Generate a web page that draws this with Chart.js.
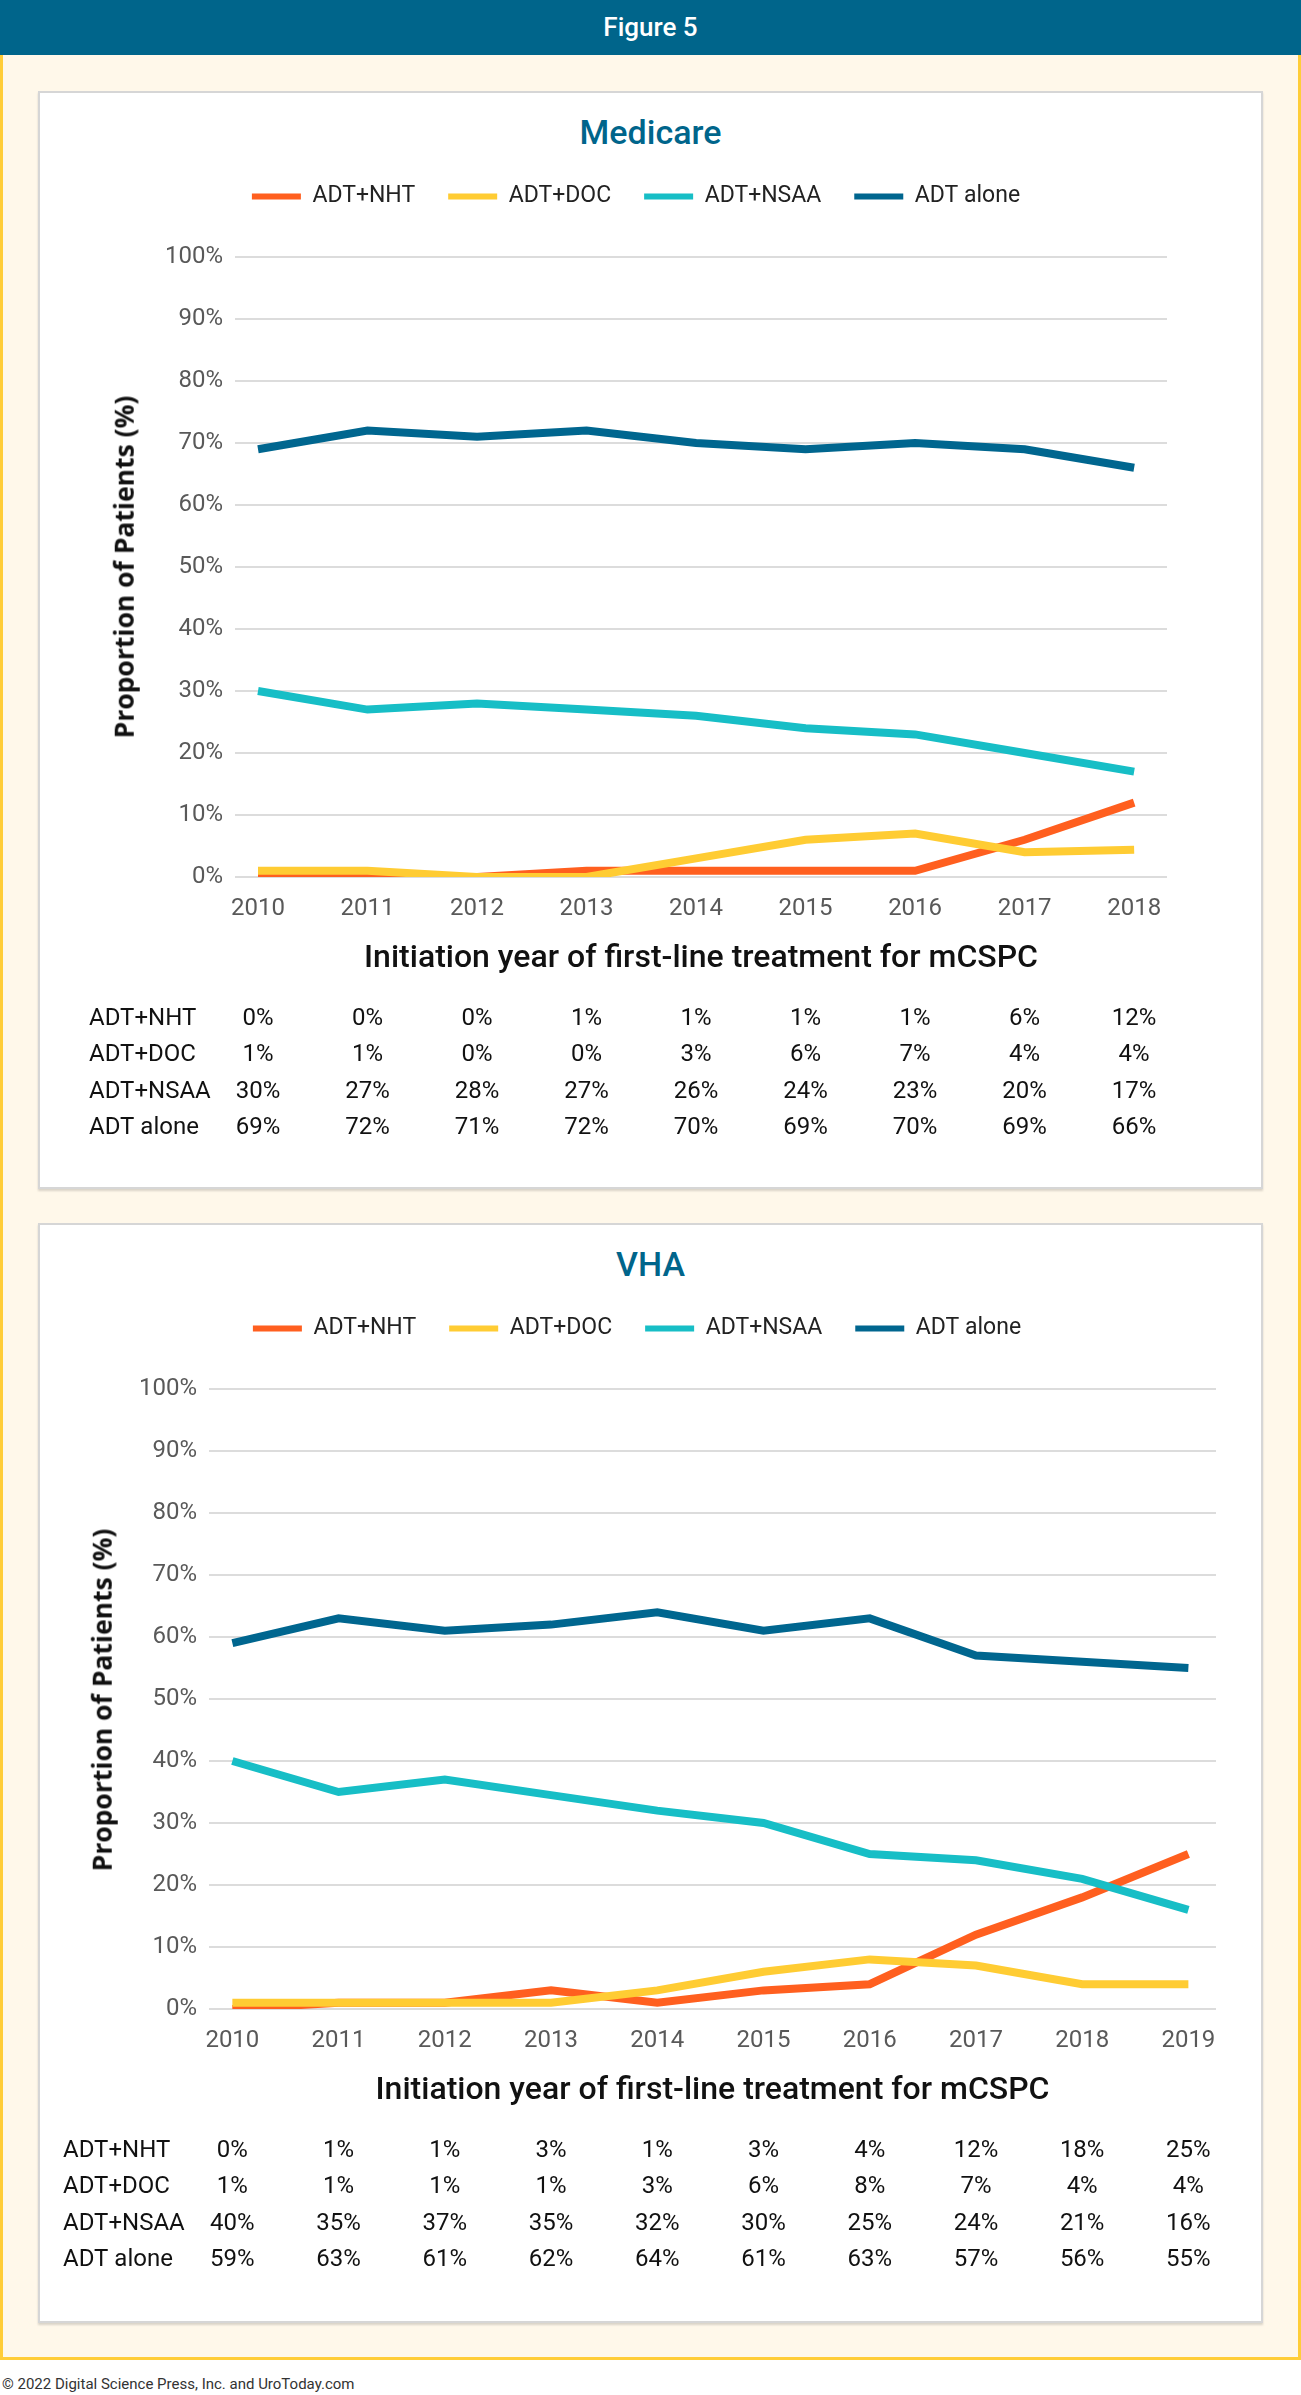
<!DOCTYPE html>
<html>
<head>
<meta charset="utf-8">
<title>Figure 5</title>
<script src="https://cdn.jsdelivr.net/npm/chart.js@4.4.1/dist/chart.umd.min.js"></script>
<style>
  body { margin: 0; width: 1301px; height: 2395px; background: #fff; font-family: Roboto, sans-serif; position: relative; overflow: hidden; }
  .header { position: absolute; left: 0; top: 0; width: 1301px; height: 55px; background: #00658b; color: #fff;
            font-size: 26px; font-weight: 500; text-align: center; line-height: 55px; }
  .frame { position: absolute; left: 0; top: 55px; width: 1301px; height: 2305px; box-sizing: border-box;
           border: 3px solid #ffcd38; border-top: none; background: #fff8ea; }
  .panel { position: absolute; left: 38px; width: 1225px; box-sizing: border-box; border: 2px solid #d6d6d6;
           box-shadow: 0 2px 2px rgba(0,0,0,0.15); background: #fff; }
  .panel h2 { position: absolute; left: 0; right: 0; top: 19px; margin: 0; text-align: center;
              font-size: 34px; line-height: 40px; font-weight: 500; color: #00658b; }
  .panel canvas { position: absolute; left: 0; top: 0; }
  .ytitle { position: absolute; transform: translate(-50%, -50%) rotate(-90deg); white-space: nowrap;
            font-family: 'Open Sans', sans-serif; font-weight: 700; font-size: 26.5px; line-height: 1; color: #111; }
  .copy { position: absolute; left: 2px; top: 2375px; font-size: 15px; line-height: 18px; color: #333; }
</style>
</head>
<body>
<div class="header">Figure 5</div>
<div class="frame"></div>
<div class="panel" style="top:91px;height:1098px;">
  <h2>Medicare</h2>
  <canvas id="medicareChart" width="1221" height="1094"></canvas>
  <div class="ytitle" style="left:84px;top:474px;">Proportion of Patients (%)</div>
</div>
<div class="panel" style="top:1223px;height:1100px;">
  <h2>VHA</h2>
  <canvas id="vhaChart" width="1221" height="1096"></canvas>
  <div class="ytitle" style="left:62px;top:475px;">Proportion of Patients (%)</div>
</div>
<div class="copy">© 2022 Digital Science Press, Inc. and UroToday.com</div>

<script>
// series names and colours
const seriesNames = ['ADT+NHT', 'ADT+DOC', 'ADT+NSAA', 'ADT alone'];
const seriesColors = ['#ff5f1f', '#ffcc33', '#17bec6', '#00668f'];

// Medicare
const medicareYears = [2010, 2011, 2012, 2013, 2014, 2015, 2016, 2017, 2018];
const medicareNHT = [0, 0, 0, 1, 1, 1, 1, 6, 12];
const medicareDOC = [1, 1, 0, 0, 3, 6, 7, 4, 4.4];
const medicareNSAA = [30, 27, 28, 27, 26, 24, 23, 20, 17];
const medicareAlone = [69, 72, 71, 72, 70, 69, 70, 69, 66];

// VHA
const vhaYears = [2010, 2011, 2012, 2013, 2014, 2015, 2016, 2017, 2018, 2019];
const vhaNHT = [0, 1, 1, 3, 1, 3, 4, 12, 18, 25];
const vhaDOC = [1, 1, 1, 1, 3, 6, 8, 7, 4, 4];
const vhaNSAA = [40, 35, 37, 34.5, 32, 30, 25, 24, 21, 16];
const vhaAlone = [59, 63, 61, 62, 64, 61, 63, 57, 56, 55];

const yTicks = [0, 10, 20, 30, 40, 50, 60, 70, 80, 90, 100];

// table of values under the x axis, one row per dataset
const dataTable = {
  id: 'dataTable',
  afterDraw(chart) {
    const {ctx, chartArea, scales} = chart;
    ctx.save();
    ctx.font = '24px Roboto';
    ctx.fillStyle = '#111';
    ctx.textBaseline = 'middle';
    chart.data.datasets.forEach((ds, i) => {
      const y = chartArea.bottom + 142 + i * 36.3;
      ctx.textAlign = 'left';
      ctx.fillText(ds.label, chartArea.left - 146, y);
      ctx.textAlign = 'center';
      ds.data.forEach(pt => {
        ctx.fillText(Math.round(pt.y) + '%', scales.x.getPixelForValue(pt.x), y);
      });
    });
    ctx.restore();
  }
};

// extra room between legend and plot
const legendGap = {
  id: 'legendGap',
  beforeInit(chart) {
    const fit = chart.legend.fit;
    chart.legend.fit = function() {
      fit.bind(chart.legend)();
      this.height += 39;
    };
  }
};

function makeChart(id, years, series, opt) {
  const datasets = series.map((vals, i) => ({
    label: seriesNames[i],
    data: years.map((yr, j) => ({x: yr, y: vals[j]})),
    borderColor: seriesColors[i],
    backgroundColor: seriesColors[i],
    borderWidth: 8,
    borderJoinStyle: 'miter',
    pointRadius: 0,
    tension: 0,
    order: series.length - i
  }));

  return new Chart(document.getElementById(id).getContext('2d'), {
    type: 'line',
    data: {datasets},
    options: {
      responsive: false,
      animation: false,
      layout: {padding: {top: 59, left: opt.padLeft, right: opt.padRight, bottom: opt.padBottom}},
      plugins: {
        legend: {
          position: 'top',
          labels: {
            boxWidth: 49,
            boxHeight: 6,
            padding: 33,
            color: '#222',
            font: {family: 'Roboto', size: 23},
            sort: (a, b) => a.datasetIndex - b.datasetIndex,
            generateLabels: function(chart) {
              const items = Chart.defaults.plugins.legend.labels.generateLabels(chart);
              items.forEach(it => { it.lineWidth = 0; });
              return items;
            }
          }
        },
        tooltip: {enabled: false}
      },
      scales: {
        x: {
          type: 'linear',
          min: opt.xMin,
          max: opt.xMax,
          afterBuildTicks: axis => { axis.ticks = years.map(v => ({value: v})); },
          afterFit: axis => { axis.height = 101; },
          grid: {display: false, drawTicks: false},
          border: {display: false},
          ticks: {
            padding: 18,
            color: '#595959',
            font: {family: 'Roboto', size: 24},
            callback: v => String(v)
          },
          title: {
            display: true,
            text: 'Initiation year of first-line treatment for mCSPC',
            color: '#111',
            font: {family: 'Roboto', size: 32, weight: 500},
            padding: {top: 0, bottom: 0}
          }
        },
        y: {
          min: 0,
          max: 100,
          afterBuildTicks: axis => { axis.ticks = yTicks.map(v => ({value: v})); },
          afterFit: axis => { axis.width = opt.yWidth; },
          grid: {color: '#dcdcdc', lineWidth: 2, drawTicks: false},
          border: {display: false},
          ticks: {
            padding: 12,
            color: '#595959',
            font: {family: 'Roboto', size: 24},
            callback: v => v + '%'
          }
        }
      }
    },
    plugins: [dataTable, legendGap]
  });
}

makeChart('medicareChart', medicareYears,
  [medicareNHT, medicareDOC, medicareNSAA, medicareAlone],
  {padLeft: 65, padRight: 94, padBottom: 209, yWidth: 130, xMin: 2009.79, xMax: 2018.30});

makeChart('vhaChart', vhaYears,
  [vhaNHT, vhaDOC, vhaNSAA, vhaAlone],
  {padLeft: 18, padRight: 45, padBottom: 211, yWidth: 151, xMin: 2009.78, xMax: 2019.26});
</script>
</body>
</html>
